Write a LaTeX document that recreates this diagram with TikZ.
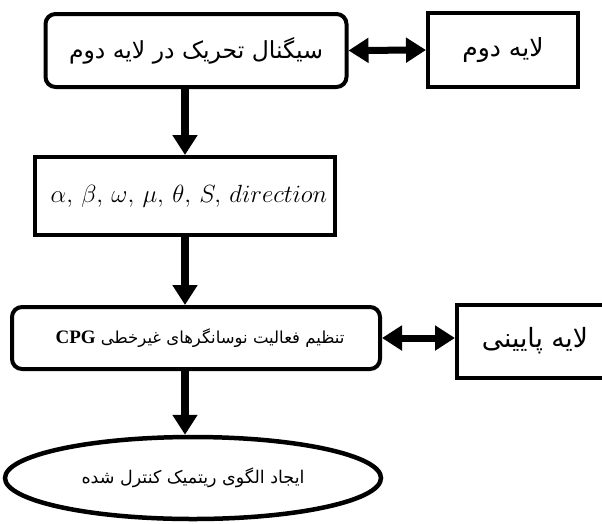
\documentclass[tikz,border=0pt]{standalone}
\usepackage{fontspec}
\usetikzlibrary{arrows.meta,shapes.geometric}
\TeXXeTstate=1
\newfontfamily\fa[Script=Arabic]{DejaVu Sans}
\newfontfamily\lserif{Liberation Serif}
\begin{document}
\begin{tikzpicture}[x=1pt,y=-1pt,
  box/.style={draw=black,line width=4pt,fill=white,inner sep=0pt,align=center},
  rbox/.style={box,rounded corners=10pt},
  conn/.style={line width=7.5pt,-{Triangle[length=20pt,width=24pt]}},
  dconn/.style={line width=7pt,{Triangle[length=20pt,width=24pt]}-{Triangle[length=20pt,width=24pt]}}
]
\clip (0,0) rectangle (602,523);
\fill[white] (0,0) rectangle (602,523);
\node[rbox,minimum width=301pt,minimum height=73pt] (b1) at (196,50.5)
  {\fa\fontsize{23.5}{26}\selectfont\beginR سیگنال تحریک در لایه دوم\endR};
\node[box,minimum width=150pt,minimum height=74pt] (b2) at (503,50)
  {\fa\fontsize{25}{28}\selectfont\beginR لایه دوم\endR};
\node[box,minimum width=300pt,minimum height=78pt] (b3) at (185,196)
  {\hspace*{8pt}\fontsize{27.5}{31}\selectfont$\alpha,\,\beta,\,\omega,\,\mu,\,\theta,\,S,\,direction$};
\node[rbox,minimum width=368pt,minimum height=62pt] (b4) at (196,338)
  {\hspace*{8pt}\fa\fontsize{16.5}{19}\selectfont\beginR تنظیم فعالیت نوسانگرهای غیرخطی \beginL{\lserif\bfseries\fontsize{19}{20}\selectfont CPG}\endL\endR};
\node[box,minimum width=200pt,minimum height=73pt] (b5) at (557,341.5) {};
\node[inner sep=0pt] (t5) at (535,341)
  {\fa\fontsize{26.5}{30}\selectfont\beginR لایه پایینی\endR};
\node[draw=black,line width=4.5pt,fill=white,ellipse,inner sep=0pt,
  minimum width=376pt,minimum height=82pt] (el) at (193,478)
  {\fa\fontsize{17.5}{20}\selectfont\beginR ایجاد الگوی ریتمیک کنترل شده\endR};
\draw[conn] (b3.north |- b1.south) -- (b3.north);
\draw[conn] (b3.south) -- (b3.south |- b4.north);
\draw[conn] (b3.south |- b4.south) -- (b3.south |- el.north);
\draw[dconn] (b1.east) -- (b2.west);
\draw[dconn] (b4.east) -- (b4.east -| b5.west);
\end{tikzpicture}
\end{document}
